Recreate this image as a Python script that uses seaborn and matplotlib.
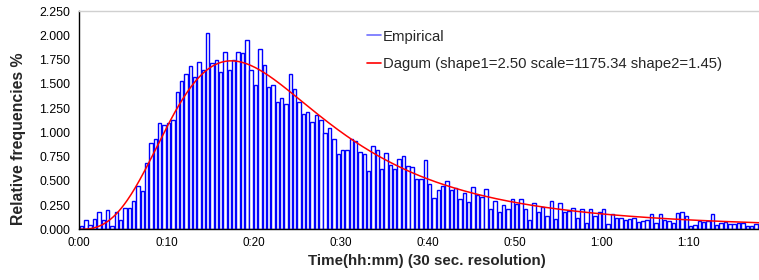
import numpy as np
import pandas as pd
import seaborn as sns
import matplotlib.pyplot as plt
from matplotlib.lines import Line2D
from matplotlib.ticker import FuncFormatter, MultipleLocator

# relative frequencies (%) of 30 sec bins, starting at 0:00
freq_part1 = [0.03, 0.10, 0.045, 0.11, 0.18, 0.10, 0.20, 0.03, 0.18, 0.10,
              0.22, 0.22, 0.29, 0.45, 0.39, 0.68, 0.89, 0.93, 1.10, 1.08,
              1.10, 1.13, 1.42, 1.53, 1.60, 1.68, 1.57, 1.72, 1.64, 2.02,
              1.71, 1.74]
freq_part2 = [1.62, 1.83, 1.64, 1.75, 1.83, 1.82, 1.95, 1.64, 1.49, 1.86,
              1.69, 1.47, 1.49, 1.31, 1.35, 1.29, 1.60, 1.45, 1.31, 1.19,
              1.21, 1.11, 1.18, 1.13, 0.99, 1.04, 0.93, 0.78, 0.82, 0.82,
              0.93]
freq_part3 = [0.91, 0.80, 0.78, 0.60, 0.86, 0.82, 0.62, 0.79, 0.66, 0.62,
              0.72, 0.76, 0.65, 0.64, 0.52, 0.52, 0.71, 0.47, 0.32, 0.40,
              0.45, 0.50, 0.40, 0.43, 0.31, 0.37, 0.28, 0.44, 0.35, 0.33,
              0.42]
freq_part4 = [0.21, 0.29, 0.18, 0.25, 0.21, 0.31, 0.26, 0.31, 0.21, 0.10,
              0.27, 0.18, 0.23, 0.14, 0.29, 0.11, 0.27, 0.18, 0.19, 0.22,
              0.12, 0.21, 0.07, 0.21, 0.14, 0.18, 0.21, 0.05, 0.16, 0.12,
              0.12]
freq_part5 = [0.10, 0.11, 0.12, 0.08, 0.09, 0.10, 0.155, 0.06, 0.155, 0.10,
              0.09, 0.07, 0.165, 0.18, 0.14, 0.03, 0.045, 0.09, 0.08, 0.09,
              0.155, 0.045, 0.07, 0.075, 0.055, 0.05, 0.06, 0.06, 0.035, 0.03,
              0.055, 0.06]
rel_freq = freq_part1 + freq_part2 + freq_part3 + freq_part4 + freq_part5

bin_sec = 30
# fitted Dagum parameters (as given in the legend)
dagum_shape1 = 2.50   # alpha
dagum_scale = 1175.34  # beta, seconds
dagum_shape2 = 1.45   # k

x_max_min = 78.1
y_ticks = [0, 0.25, 0.5, 0.75, 1.0, 1.25, 1.5, 1.75, 2.0, 2.25]

n = len(rel_freq)
bin_min = bin_sec / 60
df = pd.DataFrame({"t": (np.arange(n) + 0.5) * bin_min, "freq": rel_freq})

t_sec = np.linspace(1, x_max_min * 60, 500)
z = t_sec / dagum_scale
pdf = (dagum_shape1 * dagum_shape2 * z ** (dagum_shape1 * dagum_shape2 - 1)
       / (dagum_scale * (1 + z ** dagum_shape1) ** (dagum_shape2 + 1)))
curve = pd.DataFrame({"t": t_sec / 60, "p": pdf * bin_sec * 100})

sns.set_theme(style="white")
plt.rcParams['font.family'] = ['Liberation Sans', 'DejaVu Sans']

fig = plt.figure(figsize=(7.59, 2.80), dpi=100)
ax = fig.add_axes([79.3 / 759, 1 - 229.3 / 280, 1 - 79.3 / 759, (229.3 - 11) / 280])

sns.histplot(data=df, x="t", weights="freq", bins=n, binrange=(0, n * bin_min),
             shrink=0.78, color="white", edgecolor="#0000ff", linewidth=1.0,
             alpha=1, ax=ax, legend=False)
sns.lineplot(data=curve, x="t", y="p", color="#ff0000", linewidth=1.1, ax=ax)

ax.set_xlim(0, x_max_min)
ax.set_ylim(0, 2.25)
ax.set_yticks(y_ticks)
ax.yaxis.set_major_formatter(FuncFormatter(lambda v, p: f"{v:.3f}"))
ax.xaxis.set_major_locator(MultipleLocator(10))
ax.xaxis.set_major_formatter(FuncFormatter(lambda v, p: f"{int(v // 60)}:{int(v % 60):02d}"))

ax.tick_params(axis="y", length=0, pad=6.5, labelsize=8.9, labelcolor="black")
ax.tick_params(axis="x", length=3, color="#c0c0c0", pad=2.5, labelsize=8.4, labelcolor="black")

for s in ["left", "bottom"]:
    ax.spines[s].set_color("black")
    ax.spines[s].set_linewidth(1)
ax.spines["right"].set_visible(False)
ax.spines["top"].set_color("#d0d0d0")
ax.spines["top"].set_linewidth(1)

ax.set_xlabel("Time(hh:mm) (30 sec. resolution)", fontsize=10.9, fontweight="bold")
ax.set_ylabel("Relative frequencies %", fontsize=11.4, fontweight="bold")
ax.xaxis.set_label_coords((427 - 79.3) / 679.7, -(254 - 229.3) / 218.3)
ax.yaxis.set_label_coords((26 - 79.3) / 679.7, (229.3 - 139) / 218.3)

handles = [Line2D([], [], color="#7070ff", lw=1.2), Line2D([], [], color="#ff0000", lw=1.2)]
labels = ["Empirical", "Dagum (shape1=2.50 scale=1175.34 shape2=1.45)"]
ax.legend(handles, labels, loc="upper left", bbox_to_anchor=(367 / 759, 1 - 29.5 / 280),
          bbox_transform=fig.transFigure, frameon=False, fontsize=10.75,
          handlelength=0.97, handletextpad=0.08, labelspacing=0.9, borderpad=0,
          borderaxespad=0)

fig.savefig("out.png", dpi=100)
